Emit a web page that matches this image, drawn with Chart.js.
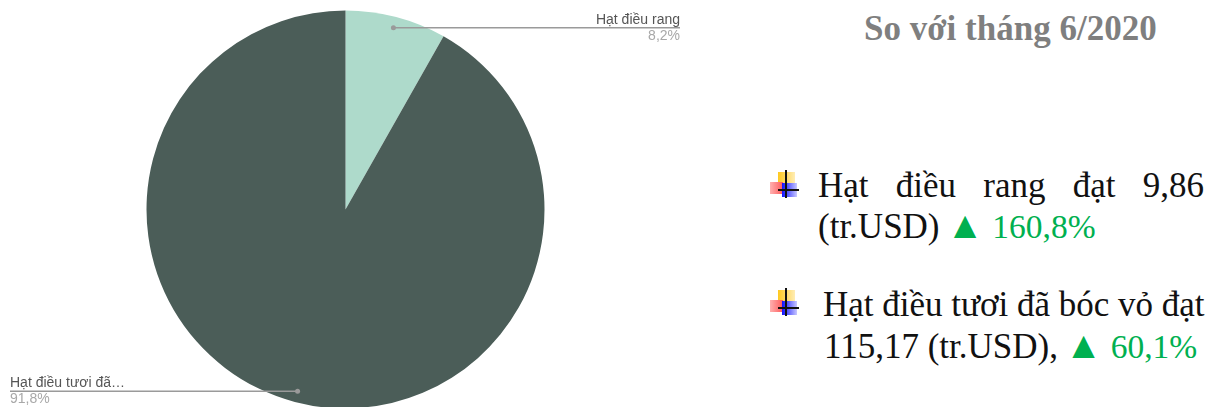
<!DOCTYPE html>
<html>
<head>
<meta charset="utf-8">
<script src="https://cdn.jsdelivr.net/npm/chart.js@4"></script>
<style>
    html, body { margin: 0; padding: 0; width: 1215px; height: 407px; overflow: hidden; background: #fff; }
    #chartBox { position: absolute; left: 0; top: 0; width: 691px; height: 419px; }
    .txt { position: absolute; font-family: "Liberation Serif", serif; font-size: 35px; line-height: 40px; color: #111; white-space: nowrap; }
    .up { color: #00b050; font-size: 33.5px; }
    .tri { font-size: 38px; margin-left: -2px; }
    #heading { left: 864px; top: 9px; font-weight: bold; color: #7f7f7f; }
    .just { width: 386px; white-space: normal; text-align: justify; text-align-last: justify; }
    .icon { position: absolute; width: 30px; height: 30px; }
    .icon div { position: absolute; }
    .yellow { left: 8px; top: 2px; width: 17px; height: 12px; background: linear-gradient(90deg, #ffc91f, #ffedb5); }
    .red { left: 0; top: 12px; width: 13px; height: 12px; background: linear-gradient(90deg, #ffb0b0, #ff5a5a); }
    .blue { left: 12px; top: 13px; width: 15px; height: 14px; background: linear-gradient(90deg, #1010ff, #c8c8ff); }
    .v { left: 15px; top: 0; width: 2px; height: 28px; background: #111; }
    .h { left: 8px; top: 19px; width: 21px; height: 2px; background: #111; }
</style>
</head>
<body>
<div id="chartBox"><canvas id="pieChart"></canvas></div>

<div class="txt" id="heading">So với tháng 6/2020</div>

<div class="icon" style="left:770px;top:170px"><div class="yellow"></div><div class="red"></div><div class="blue"></div><div class="v"></div><div class="h"></div></div>
<div class="txt just" style="left:818px;top:166px">Hạt điều rang đạt 9,86</div>
<div class="txt" style="left:818px;top:205px">(tr.USD) <span class="up"><span class="tri">▲</span> 160,8%</span></div>

<div class="icon" style="left:770px;top:288px"><div class="yellow"></div><div class="red"></div><div class="blue"></div><div class="v"></div><div class="h"></div></div>
<div class="txt" style="left:823px;top:285px">Hạt điều tươi đã bóc vỏ đạt</div>
<div class="txt" style="left:824px;top:325px">115,17 (tr.USD), <span class="up"><span class="tri">▲</span> 60,1%</span></div>

<script>
const categories = ["Hạt điều rang", "Hạt điều tươi đã…"];
const shares = [8.2, 91.8];
const shareLabels = ["8,2%", "91,8%"];
const sliceColors = ["#aedacb", "#4b5d58"];

// Leader lines and labels, anchored on the slices
const calloutPlugin = {
    id: "callouts",
    afterDatasetsDraw(chart) {
        const ctx = chart.ctx;
        chart.getDatasetMeta(0).data.forEach((arc, i) => {
            const mid = (arc.startAngle + arc.endAngle) / 2;
            const x = arc.x + Math.cos(mid) * arc.outerRadius * 0.945;
            const y = arc.y + Math.sin(mid) * arc.outerRadius * 0.945;
            const rightSide = Math.cos(mid) > 0;
            const endX = rightSide ? 680 : 10;

            ctx.save();
            ctx.strokeStyle = "#9a9a9a";
            ctx.lineWidth = 1.5;
            ctx.beginPath();
            ctx.moveTo(x, y);
            ctx.lineTo(endX, y);
            ctx.stroke();

            ctx.fillStyle = "#9a9a9a";
            ctx.beginPath();
            ctx.arc(x, y, 2.5, 0, Math.PI * 2);
            ctx.fill();

            ctx.textAlign = rightSide ? "right" : "left";
            ctx.font = '14px "Liberation Sans", Arial, sans-serif';
            ctx.fillStyle = "#555";
            ctx.textBaseline = "bottom";
            ctx.fillText(categories[i], endX, y - 1);
            ctx.fillStyle = "#a8a8a8";
            ctx.textBaseline = "top";
            ctx.fillText(shareLabels[i], endX, y + 1);
            ctx.restore();
        });
    }
};

new Chart(document.getElementById("pieChart"), {
    type: "pie",
    data: {
        labels: categories,
        datasets: [{ data: shares, backgroundColor: sliceColors, borderWidth: 0 }]
    },
    options: {
        responsive: true,
        maintainAspectRatio: false,
        animation: false,
        layout: { padding: 10.5 },
        plugins: {
            legend: { display: false },
            tooltip: { enabled: false }
        }
    },
    plugins: [calloutPlugin]
});
</script>
</body>
</html>
